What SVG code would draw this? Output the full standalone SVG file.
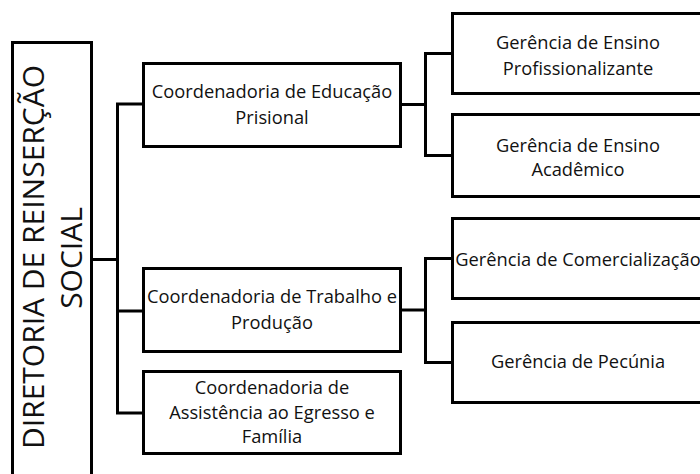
<svg xmlns="http://www.w3.org/2000/svg" width="700" height="474" viewBox="0 0 700 474">
<style>
.box{fill:#fff;stroke:#000;stroke-width:3}
.t{font-family:"Open Sans","Liberation Sans",sans-serif;font-size:18.3px;fill:#111;text-anchor:middle}
.big{font-family:"Open Sans","Liberation Sans",sans-serif;font-size:30px;fill:#111;text-anchor:middle}
.c{fill:none;stroke:#000;stroke-width:3}
</style>
<rect width="700" height="474" fill="#fff"/>
<g id="connectors">
<path class="c" d="M91 259.5H117.5M117.5 104V413M116 104H143M116 311H143M116 413H143"/>
<path class="c" d="M401 104.5H425.5M425.5 53V155.5M424 53.5H452M424 155.5H452"/>
<path class="c" d="M401 310H425.5M425.5 258V363M424 258.5H452M424 362.5H452"/>
</g>
<g id="diretoria">
<rect class="box" x="12.5" y="42.5" width="79" height="450"/>
<text class="big" transform="translate(44,257) rotate(-90)">DIRETORIA DE REINSERÇÃO</text>
<text class="big" transform="translate(82,258) rotate(-90)">SOCIAL</text>
</g>
<g id="coord-educacao">
<rect class="box" x="143.5" y="63.5" width="257" height="83"/>
<text class="t" x="272" y="98">Coordenadoria de Educação</text>
<text class="t" x="272" y="124">Prisional</text>
</g>
<g id="coord-trabalho">
<rect class="box" x="143.5" y="268.5" width="257" height="83"/>
<text class="t" x="272" y="303">Coordenadoria de Trabalho e</text>
<text class="t" x="272" y="329">Produção</text>
</g>
<g id="coord-assistencia">
<rect class="box" x="143.5" y="371.5" width="257" height="82"/>
<text class="t" x="272" y="394">Coordenadoria de</text>
<text class="t" x="272" y="419">Assistência ao Egresso e</text>
<text class="t" x="272" y="443">Família</text>
</g>
<g id="ger-profissionalizante">
<rect class="box" x="452.5" y="13.5" width="252" height="80"/>
<text class="t" x="578" y="49">Gerência de Ensino</text>
<text class="t" x="578" y="75">Profissionalizante</text>
</g>
<g id="ger-academico">
<rect class="box" x="452.5" y="114.5" width="252" height="82"/>
<text class="t" x="578" y="152">Gerência de Ensino</text>
<text class="t" x="578" y="176">Acadêmico</text>
</g>
<g id="ger-comercializacao">
<rect class="box" x="452.5" y="218.5" width="252" height="80"/>
<text class="t" x="578" y="266">Gerência de Comercialização</text>
</g>
<g id="ger-pecunia">
<rect class="box" x="452.5" y="322.5" width="252" height="80"/>
<text class="t" x="578" y="368">Gerência de Pecúnia</text>
</g>
</svg>
